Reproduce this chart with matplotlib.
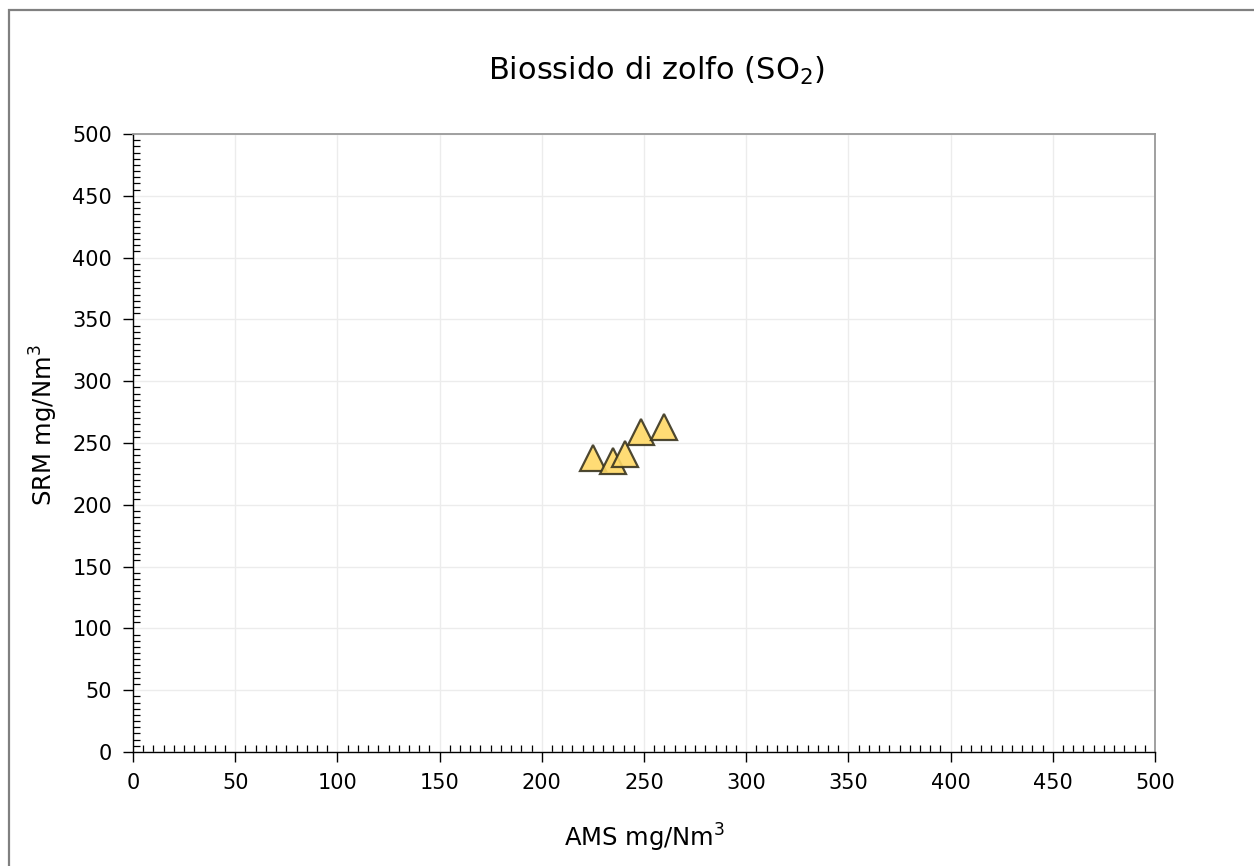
import matplotlib
matplotlib.use("Agg")
import matplotlib.pyplot as plt
from matplotlib.patches import Rectangle
from matplotlib.ticker import MultipleLocator

# Paired measurements: AMS vs SRM (mg/Nm3)
ams = [224.9, 235.0, 240.6, 248.5, 259.9]
srm = [237.7, 235.3, 241.3, 258.7, 262.8]

x_ticks = [0, 50, 100, 150, 200, 250, 300, 350, 400, 450, 500]
y_ticks = [0, 50, 100, 150, 200, 250, 300, 350, 400, 450, 500]

title = "Biossido di zolfo (SO$_2$)"
x_label = "AMS mg/Nm$^3$"
y_label = "SRM mg/Nm$^3$"

W, H = 1254, 866
fig = plt.figure(figsize=(W / 100, H / 100), dpi=100)
fig.patch.set_facecolor("white")

# outer chart-area frame (left and top edges visible)
fig.patches.append(Rectangle((9 / W, -0.2), 1.2, 1.2 - 10 / H, transform=fig.transFigure,
                             fill=False, edgecolor="#808080", linewidth=1.6, zorder=0))

ax = fig.add_axes([133 / W, 1 - 752 / H, (1155 - 133) / W, (752 - 134) / H])
ax.set_xlim(0, 500)
ax.set_ylim(0, 500)
ax.set_xticks(x_ticks)
ax.set_yticks(y_ticks)
ax.xaxis.set_minor_locator(MultipleLocator(5))
ax.yaxis.set_minor_locator(MultipleLocator(5))

ax.grid(True, which="major", color="#ececec", linewidth=1.0, zorder=0)
ax.set_axisbelow(True)

for side in ("left", "bottom"):
    ax.spines[side].set_color("black")
    ax.spines[side].set_linewidth(1.0)
for side in ("top", "right"):
    ax.spines[side].set_color("#999999")
    ax.spines[side].set_linewidth(1.3)

ax.tick_params(which="major", direction="out", length=7, width=1.0, color="black",
               labelsize=15, pad=8, top=False, right=False)
ax.tick_params(which="minor", direction="in", length=5, width=0.9, color="black",
               top=False, right=False)

ax.plot(ams, srm, linestyle="none", marker="^", markersize=19,
        markerfacecolor="#ffd966", markeredgecolor="#3a3520", markeredgewidth=1.6,
        alpha=0.9, zorder=3)

# title and axis titles placed in figure pixels
fig.text(657 / W, 1 - 80 / H, title, ha="center", va="baseline", fontsize=22)
fig.text(645 / W, 1 - 847 / H, x_label, ha="center", va="baseline", fontsize=17.5)
fig.text(44 / W, 1 - 425 / H, y_label, ha="center", va="center", rotation=90,
         fontsize=17.5)

fig.savefig("out.png", dpi=100, facecolor="white")
